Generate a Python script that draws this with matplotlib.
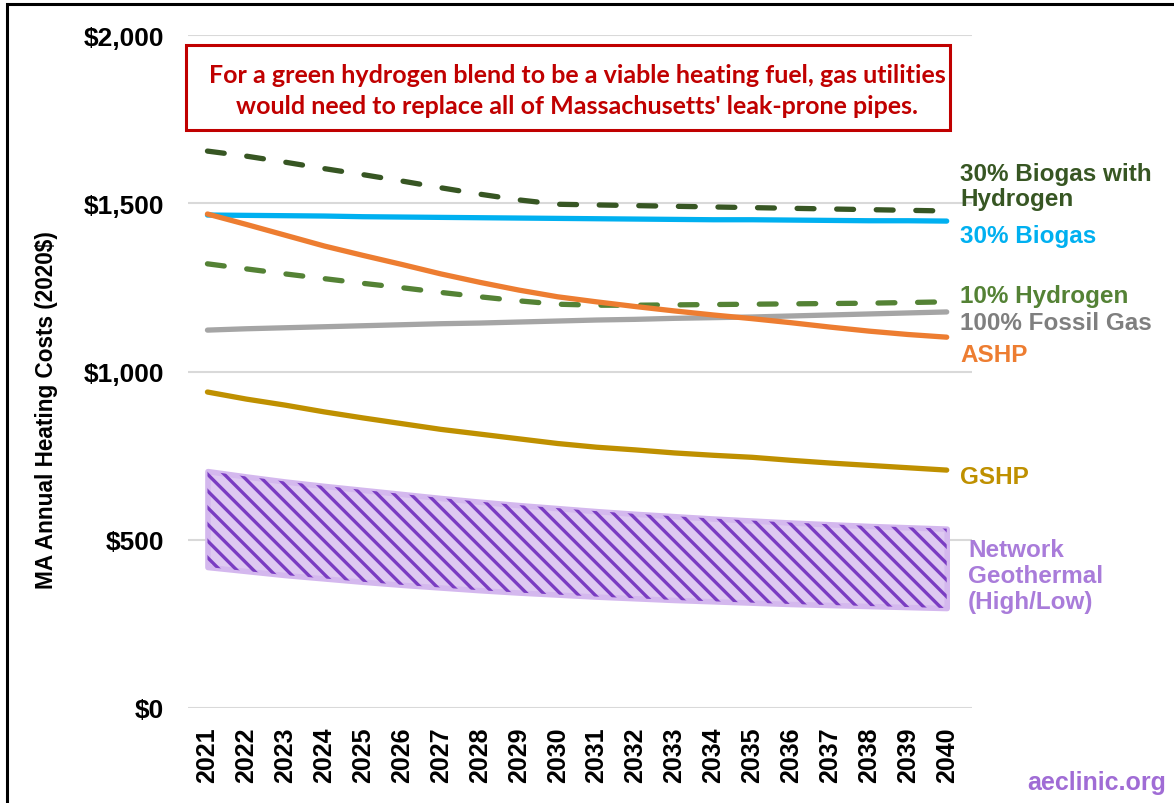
import numpy as np
import matplotlib
matplotlib.use("Agg")
import matplotlib.pyplot as plt
from matplotlib.patches import Rectangle

# Annual heating cost projections, 2020 dollars
years = list(range(2021, 2041))
biogas_h2 = [1655, 1640, 1622, 1603, 1585, 1566, 1546, 1527, 1510, 1497,
             1495, 1493, 1491, 1489, 1487, 1485, 1483, 1481, 1479, 1477]
biogas = [1465, 1464, 1463, 1462, 1460, 1459, 1458, 1457, 1456, 1455,
          1454, 1453, 1452, 1451, 1451, 1450, 1449, 1448, 1448, 1447]
ashp = [1468, 1437, 1405, 1373, 1345, 1318, 1290, 1265, 1242, 1222,
        1207, 1193, 1180, 1168, 1157, 1145, 1132, 1120, 1110, 1102]
hydrogen10 = [1320, 1305, 1290, 1276, 1262, 1249, 1235, 1222, 1210, 1200,
              1197, 1197, 1198, 1199, 1200, 1201, 1202, 1203, 1205, 1207]
fossil = [1123, 1127, 1130, 1133, 1136, 1139, 1142, 1144, 1147, 1150,
          1153, 1155, 1158, 1160, 1162, 1165, 1168, 1171, 1174, 1177]
gshp = [939, 918, 900, 880, 862, 845, 828, 814, 800, 786,
        775, 767, 758, 751, 745, 736, 728, 721, 714, 707]
geo_high = [704, 688, 673, 660, 648, 636, 624, 613, 603, 594,
            585, 577, 570, 563, 557, 551, 546, 541, 537, 533]
geo_low = [419, 407, 395, 385, 375, 366, 358, 350, 343, 337,
           331, 326, 321, 317, 313, 309, 306, 303, 300, 297]

yticks = [0, 500, 1000, 1500, 2000]
ytick_labels = ["$0", "$500", "$1,000", "$1,500", "$2,000"]

W, H = 1174, 804
plt.rcParams['font.family'] = ['Liberation Sans', 'DejaVu Sans']
plt.rcParams['hatch.color'] = '#7A3CC2'
plt.rcParams['hatch.linewidth'] = 2.4

fig = plt.figure(figsize=(W / 100, H / 100), dpi=100)


def px(x, y):
    # pixel position (from top-left) -> figure fraction
    return x / W, 1 - y / H


x0, y1 = px(188, 36)
x1, y0 = px(972, 709)
ax = fig.add_axes([x0, y0, x1 - x0, y1 - y0])
ax.set_xlim(2020.5, 2040.65)
ax.set_ylim(0, 2000)

for s in ax.spines.values():
    s.set_visible(False)
ax.set_yticks(yticks)
ax.set_yticklabels(ytick_labels, fontsize=19, fontweight='bold')
ax.set_xticks(years)
ax.set_xticklabels([str(y) for y in years], rotation=90, fontsize=18,
                   fontweight='bold')
ax.tick_params(length=0)
ax.tick_params(axis='y', pad=17)
ax.tick_params(axis='x', pad=13)
ax.grid(axis='y', color='#D9D9D9', linewidth=1.5)
ax.set_axisbelow(True)
ax.set_ylabel("MA Annual Heating Costs (2020$)", fontsize=16.3,
              fontweight='bold')
ax.yaxis.set_label_coords(-0.166, 0.444)

# network geothermal range band
ax.fill_between(years, geo_low, geo_high, facecolor='#DEC9F1',
                edgecolor='#D4B8EE', linewidth=4, zorder=2)
ax.fill_between(years, geo_low, geo_high, facecolor='none',
                edgecolor='#7A3CC2', hatch='\\\\', linewidth=0, zorder=3)

lw = 3.8
dash = (3.2, 4.3)
ax.plot(years, gshp, color='#BF9000', lw=lw, solid_capstyle='round', zorder=4)
ax.plot(years, fossil, color='#A5A5A5', lw=lw, solid_capstyle='round', zorder=4)
ax.plot(years, biogas, color='#00B0F0', lw=lw, solid_capstyle='round', zorder=4)
ax.plot(years, ashp, color='#ED7D31', lw=lw, solid_capstyle='round', zorder=5)
ax.plot(years, hydrogen10, color='#548235', lw=lw, dashes=dash,
        dash_capstyle='round', zorder=4)
ax.plot(years, biogas_h2, color='#375623', lw=lw, dashes=dash,
        dash_capstyle='round', zorder=4)

# series labels at the right end
lab_x = 2040.35
lab_kw = dict(fontsize=17.5, fontweight='bold', ha='left', va='center',
              clip_on=False)
ax.text(lab_x, 1551, "30% Biogas with\nHydrogen", color='#375623',
        linespacing=1.15, **lab_kw)
ax.text(lab_x, 1405, "30% Biogas", color='#00B0F0', **lab_kw)
ax.text(lab_x, 1226, "10% Hydrogen", color='#548235', **lab_kw)
ax.text(lab_x, 1146, "100% Fossil Gas", color='#7F7F7F', **lab_kw)
ax.text(lab_x, 1052, "ASHP", color='#ED7D31', **lab_kw)
ax.text(lab_x, 687, "GSHP", color='#BF9000', **lab_kw)
ax.text(2040.55, 394, "Network\nGeothermal\n(High/Low)", color='#A97CDA',
        linespacing=1.15, **lab_kw)

# callout box
bx0, by0 = px(186, 131)
bx1, by1 = px(950, 46)
fig.patches.append(Rectangle((bx0, by0), bx1 - bx0, by1 - by0,
                             transform=fig.transFigure, facecolor='white',
                             edgecolor='#C00000', linewidth=2.2, zorder=5))
fig.text(*px(577, 91),
         "For a green hydrogen blend to be a viable heating fuel, gas utilities\n"
         "would need to replace all of Massachusetts' leak-prone pipes.",
         ha='center', va='center', color='#C00000', fontsize=18,
         fontweight='bold', family=['Lato', 'DejaVu Sans'], linespacing=1.45,
         zorder=6)

fig.text(*px(1166, 783), "aeclinic.org", ha='right', va='center',
         color='#A06CD5', fontsize=18, fontweight='bold')

# outer frame
fx0, fy0 = px(7, 812)
fx1, fy1 = px(1185, 5)
fig.patches.append(Rectangle((fx0, fy0), fx1 - fx0, fy1 - fy0,
                             transform=fig.transFigure, fill=False,
                             edgecolor='black', linewidth=2.2, zorder=10))

fig.savefig("out.png", dpi=100)
